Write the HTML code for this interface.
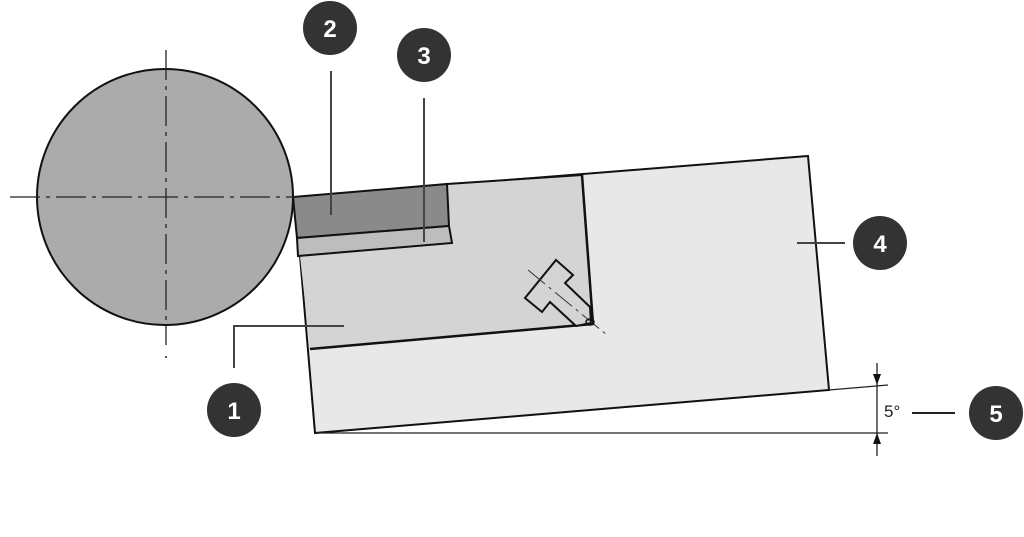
<!DOCTYPE html>
<html><head><style>
html,body{margin:0;padding:0;background:#fff;}
svg{display:block;}
text{font-family:"Liberation Sans",sans-serif;}
</style></head><body>
<svg width="1024" height="537" viewBox="0 0 1024 537" xmlns="http://www.w3.org/2000/svg">
<rect width="1024" height="537" fill="#fff"/>
<!-- holder -->
<polygon points="296,197 808,156 829,390 315,433 300,256" fill="#e8e8e8" stroke="#111" stroke-width="2"/>
<!-- clamp region -->
<polygon points="300,256 452,243 447,184 582,175 593,324 310,349" fill="#d4d4d4" stroke="none"/>
<line x1="447" y1="184" x2="582" y2="175" stroke="#111" stroke-width="2"/>
<polyline points="582,175 593,324 310,349" fill="none" stroke="#111" stroke-width="2.5"/>
<!-- insert -->
<polygon points="293,197 447,184 449,226 297,238" fill="#8a8a8a" stroke="#111" stroke-width="2"/>
<polygon points="297,238 449,226 452,243 298,256" fill="#bdbdbd" stroke="#111" stroke-width="2"/>
<!-- screw -->
<polygon points="556,260 573,275 565,283 590,307 591,323 576,326 550,302 542,312 525,298" fill="#d4d4d4" stroke="#111" stroke-width="2"/>
<line x1="528" y1="270" x2="607" y2="335" stroke="#333" stroke-width="1" stroke-dasharray="22,5,3,5"/>
<ellipse cx="590" cy="322" rx="4" ry="3" fill="none" stroke="#111" stroke-width="1.5"/>
<!-- workpiece -->
<circle cx="165" cy="197" r="128" fill="#ababab" stroke="#111" stroke-width="2"/>
<line x1="10" y1="197" x2="300" y2="197" stroke="#222" stroke-width="1.3" stroke-dasharray="30,6,4,6"/>
<line x1="166" y1="50" x2="166" y2="345" stroke="#222" stroke-width="1.3" stroke-dasharray="30,6,4,6"/>
<circle cx="166" cy="357" r="1" fill="#222"/>
<!-- dimension -->
<line x1="316" y1="433" x2="888" y2="433" stroke="#222" stroke-width="1.3"/>
<line x1="829" y1="390" x2="888" y2="385" stroke="#222" stroke-width="1.3"/>
<line x1="877" y1="363" x2="877" y2="456" stroke="#222" stroke-width="1.3"/>
<polygon points="877,385 873,374 881,374" fill="#111"/>
<polygon points="877,433 873,444 881,444" fill="#111"/>
<text x="884" y="417" font-size="17" fill="#222">5°</text>
<line x1="912" y1="413" x2="955" y2="413" stroke="#222" stroke-width="2"/>
<!-- leaders -->
<polyline points="234,368 234,326 344,326" fill="none" stroke="#444" stroke-width="2"/>
<line x1="331" y1="71" x2="331" y2="215" stroke="#444" stroke-width="2"/>
<line x1="424" y1="98" x2="424" y2="242" stroke="#444" stroke-width="2"/>
<line x1="797" y1="243" x2="845" y2="243" stroke="#444" stroke-width="2"/>
<!-- markers -->
<g font-size="24" font-weight="bold" fill="#fff" text-anchor="middle">
<circle cx="330" cy="28" r="27" fill="#333"/><text x="330" y="37">2</text>
<circle cx="424" cy="55" r="27" fill="#333"/><text x="424" y="64">3</text>
<circle cx="880" cy="243" r="27" fill="#333"/><text x="880" y="252">4</text>
<circle cx="234" cy="410" r="27" fill="#333"/><text x="234" y="419">1</text>
<circle cx="996" cy="413" r="27" fill="#333"/><text x="996" y="422">5</text>
</g>
</svg>
</body></html>
